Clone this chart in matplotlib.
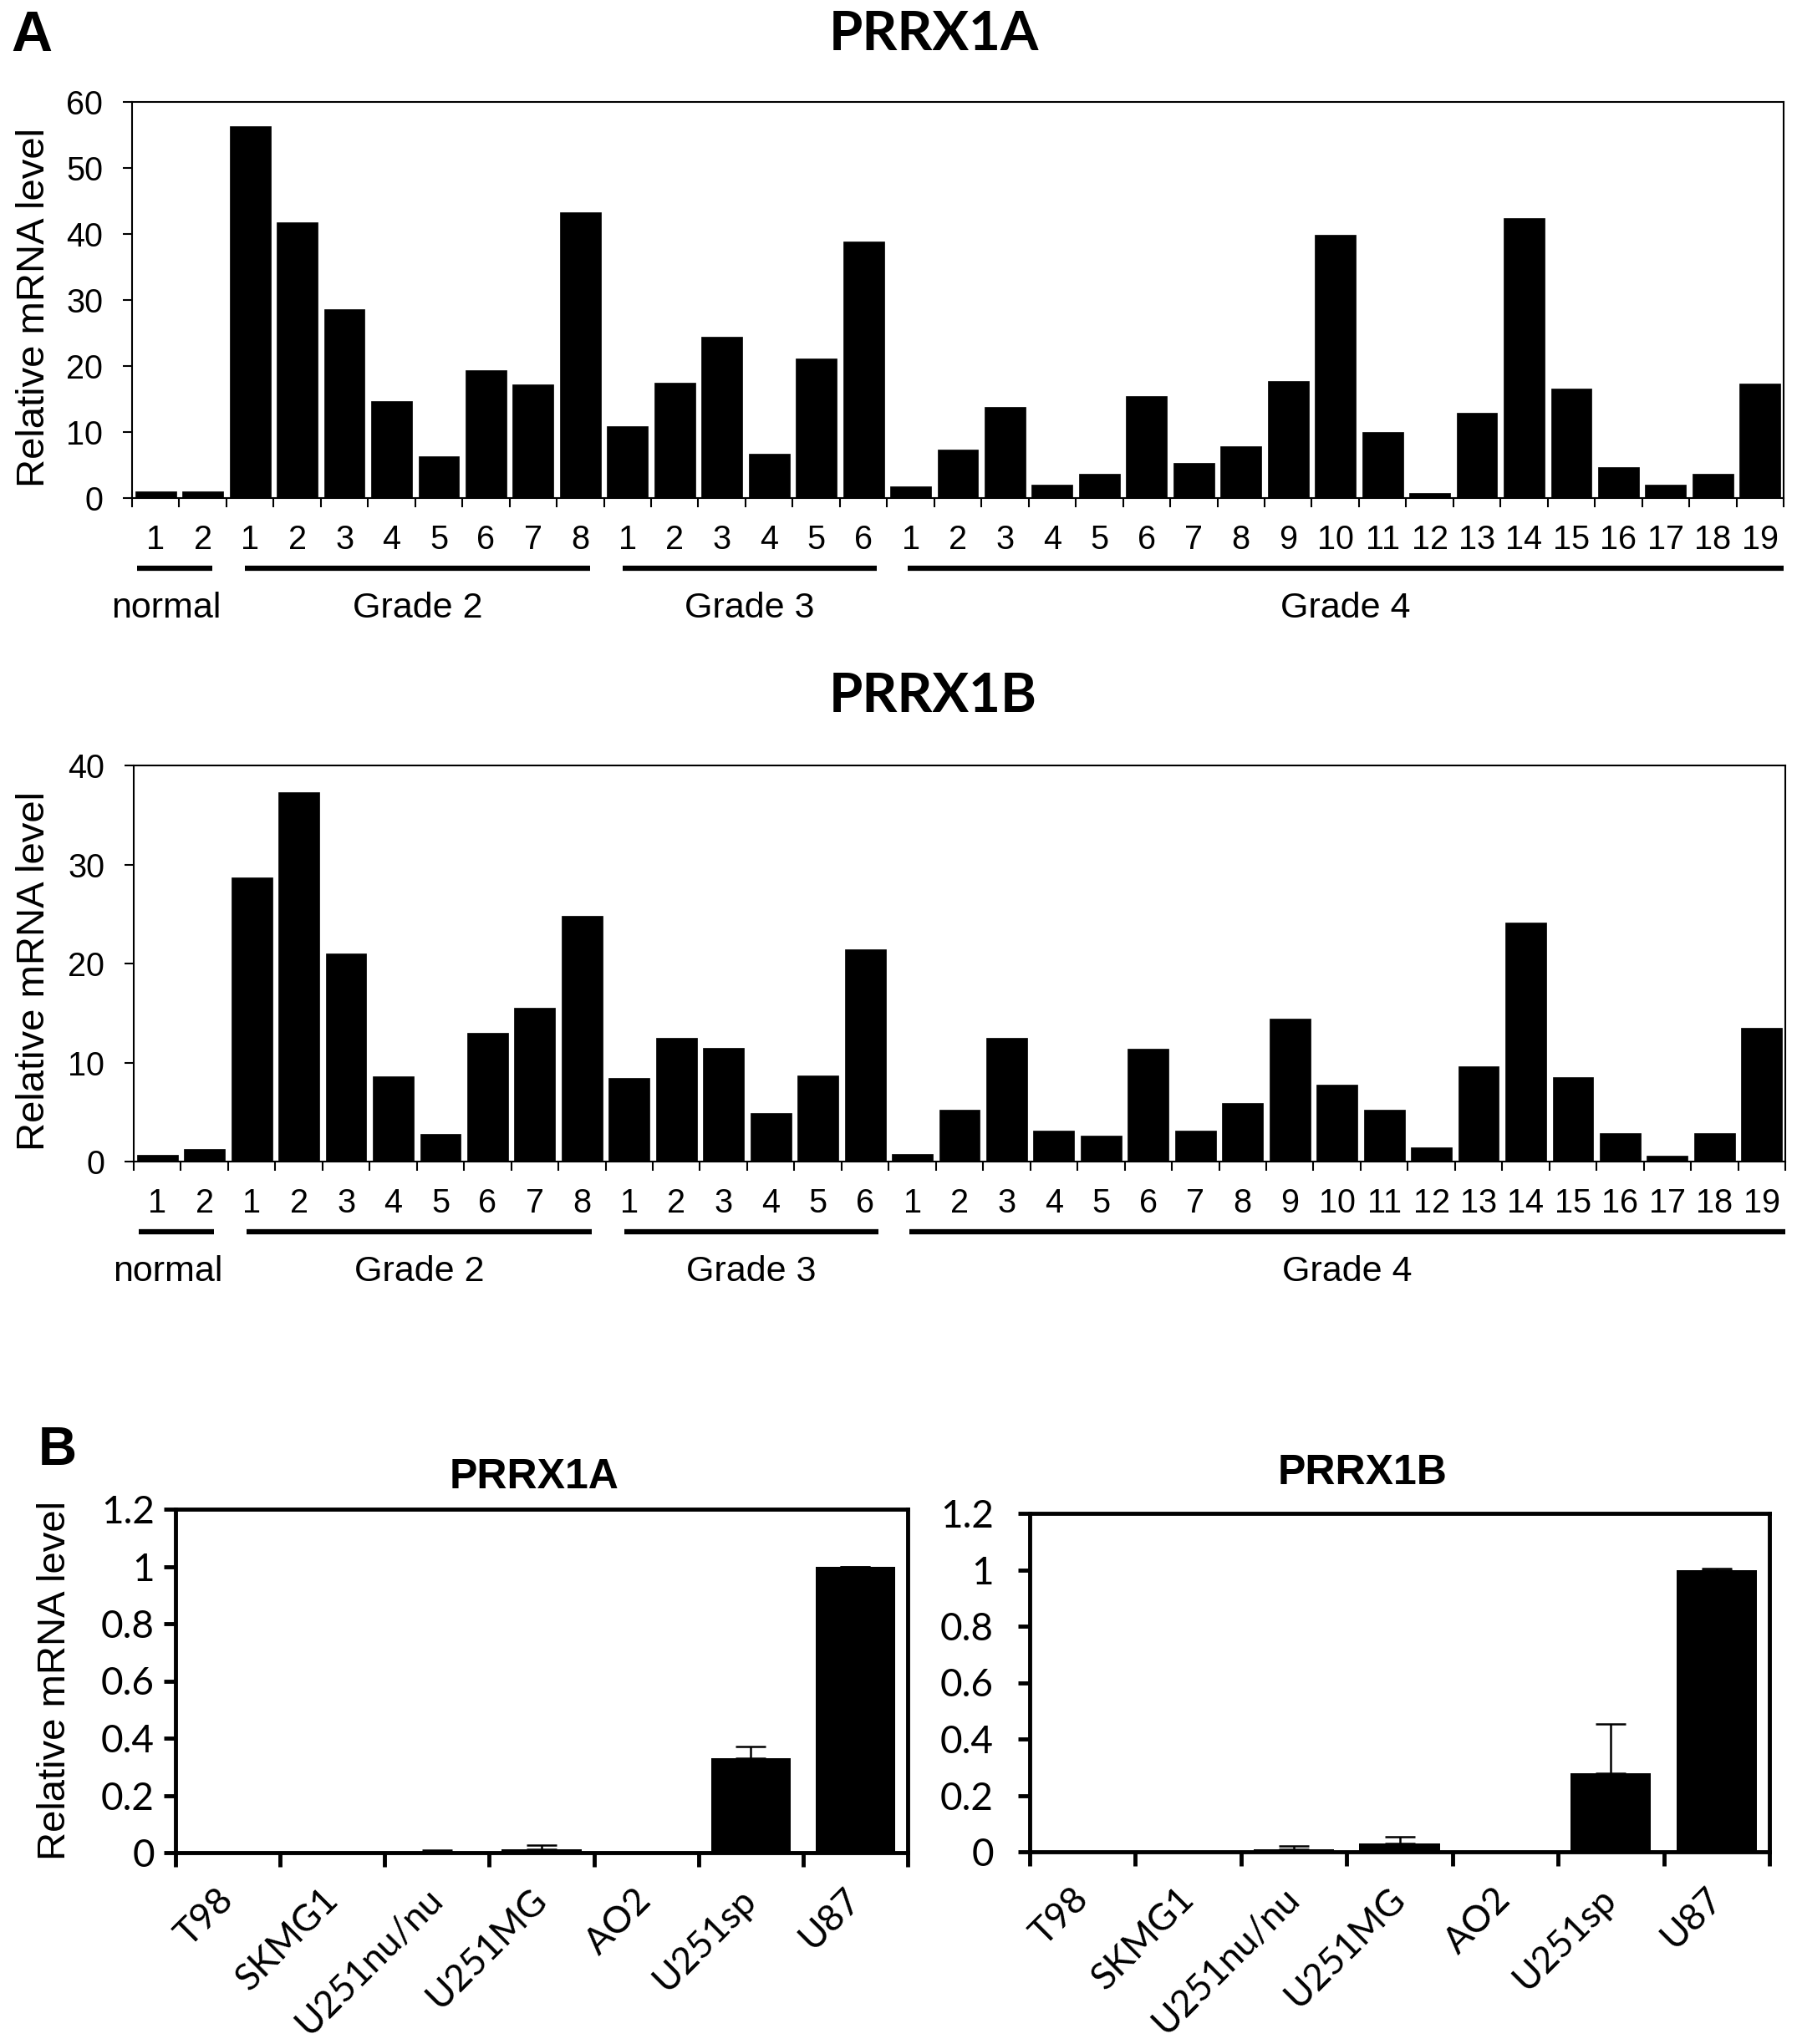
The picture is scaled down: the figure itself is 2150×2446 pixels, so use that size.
import matplotlib
matplotlib.use("Agg")
import matplotlib.pyplot as plt
import matplotlib.transforms as mtransforms
from matplotlib.lines import Line2D
import numpy as np

plt.rcParams['font.family'] = ['Liberation Sans', 'DejaVu Sans']

# ---------------- data ----------------
group_names = ["normal", "Grade 2", "Grade 3", "Grade 4"]
group_sizes = [2, 8, 6, 19]
tissue_labels = ["1", "2",
                 "1", "2", "3", "4", "5", "6", "7", "8",
                 "1", "2", "3", "4", "5", "6",
                 "1", "2", "3", "4", "5", "6", "7", "8", "9", "10",
                 "11", "12", "13", "14", "15", "16", "17", "18", "19"]

prrx1a_tissue = [1.0, 1.0,
                 56.3, 41.8, 28.6, 14.7, 6.3, 19.4, 17.2, 43.3,
                 10.9, 17.5, 24.4, 6.7, 21.2, 38.8,
                 1.8, 7.3, 13.8, 2.0, 3.7, 15.5, 5.3, 7.9, 17.7, 39.9,
                 10.0, 0.7, 12.9, 42.4, 16.6, 4.7, 2.0, 3.7, 17.3]
prrx1b_tissue = [0.7, 1.3,
                 28.7, 37.3, 21.0, 8.6, 2.8, 13.0, 15.5, 24.8,
                 8.4, 12.5, 11.5, 4.9, 8.7, 21.4,
                 0.8, 5.2, 12.5, 3.1, 2.6, 11.4, 3.1, 5.9, 14.4, 7.8,
                 5.2, 1.4, 9.6, 24.1, 8.5, 2.9, 0.6, 2.9, 13.5]

cell_lines = ["T98", "SKMG1", "U251nu/nu", "U251MG", "AO2", "U251sp", "U87"]
prrx1a_cells = [0.0, 0.0, 0.003, 0.012, 0.0, 0.33, 1.0]
prrx1a_cells_err = [0.0, 0.0, 0.007, 0.015, 0.0, 0.04, 0.0]
prrx1b_cells = [0.0, 0.001, 0.009, 0.030, 0.0, 0.278, 1.0]
prrx1b_cells_err = [0.0, 0.0, 0.011, 0.024, 0.0, 0.175, 0.003]

cell_yticks = [0, 0.2, 0.4, 0.6, 0.8, 1.0, 1.2]
cell_yticklabels = ["0", "0.2", "0.4", "0.6", "0.8", "1", "1.2"]

# ---------------- layout helpers ----------------
W, H = 2150, 2446
fig = plt.figure(figsize=(W / 100, H / 100), dpi=100)


def rect(l, t, r, b):
    return [l / W, 1 - b / H, (r - l) / W, (b - t) / H]


def ftext(xpx, ypx, s, **kw):
    fig.text(xpx / W, 1 - ypx / H, s, **kw)


TITLE_FONT = ['Lato', 'DejaVu Sans']
CELL_FONT = ['Lato', 'DejaVu Sans']


def draw_tissue(ax, values, ymax):
    n = len(values)
    x = np.arange(n)
    ax.bar(x, values, width=0.865, color='black', edgecolor='black', linewidth=0.5)
    ax.set_xlim(-0.5, n - 0.5)
    ax.set_ylim(0, ymax)
    ax.set_yticks(np.arange(0, ymax + 1, 10))
    ax.set_xticks(np.arange(n + 1) - 0.5)
    ax.set_xticklabels([])
    ax.set_xticks(x, minor=True)
    ax.set_xticklabels(tissue_labels, minor=True)
    ax.tick_params(axis='x', which='major', direction='out', length=8, width=1.5)
    ax.tick_params(axis='x', which='minor', length=0, pad=22, labelsize=28.5)
    ax.tick_params(axis='y', direction='out', length=8, width=1.5, pad=17, labelsize=28.5)
    for sp in ax.spines.values():
        sp.set_linewidth(1.5)

    # group underlines and names
    trans = mtransforms.blended_transform_factory(ax.transData, ax.transAxes)
    axh = ax.get_position().height * H
    y_line = -84 / axh
    y_name = -132 / axh
    pads = [(0.1, 0.3), (0.4, 0.3), (0.4, 0.22), (0.44, 0.0)]
    start = 0
    for name, size, (pl, pr) in zip(group_names, group_sizes, pads):
        x0 = start - 0.5 + pl
        x1 = start + size - 0.5 - pr
        ax.add_line(Line2D([x0, x1], [y_line, y_line], transform=trans,
                           color='black', linewidth=4.5, clip_on=False,
                           solid_capstyle='butt'))
        xc = (x0 + x1) / 2 - (0.17 if start == 0 else 0.0)
        ax.text(xc, y_name, name, transform=trans, ha='center', va='center',
                fontsize=31)
        start += size


def draw_cells(ax, values, errs, ylab_pad):
    n = len(values)
    x = np.arange(n)
    ax.bar(x, values, width=0.76, color='black', linewidth=0,
           yerr=[np.zeros(n), errs], capsize=13,
           error_kw=dict(elinewidth=1.8, capthick=1.8, ecolor='black'))
    ax.set_xlim(-0.5, n - 0.5)
    ax.set_ylim(0, 1.2)
    ax.set_yticks(cell_yticks)
    ax.set_yticklabels(cell_yticklabels, fontfamily=CELL_FONT)
    ax.set_xticks(np.arange(n + 1) - 0.5)
    ax.set_xticklabels([])
    ax.set_xticks(x, minor=True)
    ax.set_xticklabels(cell_lines, minor=True, rotation=45, ha='right',
                       va='center', rotation_mode='anchor',
                       fontfamily=CELL_FONT)
    ax.tick_params(axis='x', which='major', direction='out', length=12, width=3.5)
    ax.tick_params(axis='x', which='minor', length=0, pad=36, labelsize=32)
    ax.tick_params(axis='y', direction='out', length=10, width=3.5,
                   pad=ylab_pad, labelsize=33)
    for sp in ax.spines.values():
        sp.set_linewidth(3.5)


# ---------------- Panel A ----------------
ax1 = fig.add_axes(rect(158, 122, 2134, 596))
draw_tissue(ax1, prrx1a_tissue, 60)
ax2 = fig.add_axes(rect(160, 916, 2136, 1390))
draw_tissue(ax2, prrx1b_tissue, 40)

ftext(13, 61, "A", fontsize=49, fontweight='bold', ha='left', va='baseline')
ftext(1117, 60, "PRRX1A", fontsize=47, fontweight='bold', ha='center',
      va='baseline', family=TITLE_FONT)
ftext(1116, 852, "PRRX1B", fontsize=47, fontweight='bold', ha='center',
      va='baseline', family=TITLE_FONT)
ftext(41, 368, "Relative mRNA level", rotation=90, ha='center', va='center',
      fontsize=34)
ftext(41, 1162, "Relative mRNA level", rotation=90, ha='center', va='center',
      fontsize=34)

# ---------------- Panel B ----------------
ax3 = fig.add_axes(rect(210, 1806, 1086, 2217))
draw_cells(ax3, prrx1a_cells, prrx1a_cells_err, 8)
ax4 = fig.add_axes(rect(1232, 1811, 2117, 2216))
draw_cells(ax4, prrx1b_cells, prrx1b_cells_err, 21)

ftext(46, 1753, "B", fontsize=46, fontweight='bold', ha='left', va='baseline')
ftext(639, 1781, "PRRX1A", fontsize=36, fontweight='bold', ha='center',
      va='baseline')
ftext(1630, 1776, "PRRX1B", fontsize=36, fontweight='bold', ha='center',
      va='baseline')
ftext(66, 2011, "Relative mRNA level", rotation=90, ha='center', va='center',
      fontsize=34)

fig.savefig("out.png", dpi=100, facecolor='white')
